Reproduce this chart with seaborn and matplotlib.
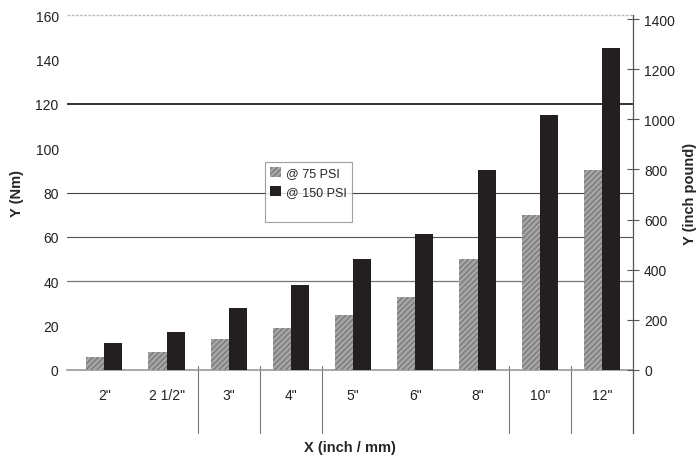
import matplotlib
matplotlib.use('Agg')
import numpy as np
import pandas as pd
import matplotlib.pyplot as plt
import seaborn as sns
from matplotlib.patches import Patch

# 数据 (Nm)
sizes = ['2"', '2 1/2"', '3"', '4"', '5"', '6"', '8"', '10"', '12"']
psi_75 = [6, 8, 14, 19, 25, 33, 50, 70, 90]
psi_150 = [12, 17, 28, 38.5, 50, 61.5, 90, 115, 145]
series_names = ['@ 75 PSI', '@ 150 PSI']
nm_to_inlb = 8.85

df = pd.DataFrame({
    'size': sizes * 2,
    'torque': psi_75 + psi_150,
    'psi': [series_names[0]] * len(sizes) + [series_names[1]] * len(sizes),
})

sns.set_style('white')
plt.rcParams['font.family'] = ['Liberation Sans', 'DejaVu Sans']

fig = plt.figure(figsize=(6.98, 4.6), dpi=100)
ax = fig.add_axes([67 / 698, 89 / 460, 566 / 698, 355 / 460])

sns.barplot(data=df, x='size', y='torque', hue='psi', order=sizes,
            palette=['#a6a6a6', '#231f20'], width=0.58, saturation=1,
            edgecolor='none', ax=ax, legend=False, zorder=3)

# 灰色柱子加纹理
for p in ax.containers[0]:
    p.set_hatch('//////')
    p.set_edgecolor('#7a7a7a')
    p.set_linewidth(0)

ax.set_xlim(-0.6, 8.5)
ax.set_ylim(0, 160)
ax.set_yticks(np.arange(0, 161, 20))
for s in ['left', 'top', 'right']:
    ax.spines[s].set_visible(False)
ax.spines['bottom'].set_color('#999999')
ax.spines['bottom'].set_linewidth(1.2)
ax.tick_params(axis='y', length=0, pad=6, labelsize=10, colors='#222222')
ax.tick_params(axis='x', length=0, pad=13, labelsize=10, colors='#222222')

# 网格线 (只有部分)
ax.axhline(40, color='#777777', lw=0.9, zorder=1)
ax.axhline(60, color='#555555', lw=0.8, zorder=1)
ax.axhline(80, color='#444444', lw=0.8, zorder=1)
ax.axhline(120, color='#222222', lw=1.3, zorder=1)
ax.axhline(160, color='#bbbbbb', lw=1.0, ls=(0, (2, 1)), zorder=1, clip_on=False)

# 类别分隔线
for k in [2, 3, 4, 7, 8]:
    ax.plot([k - 0.5, k - 0.5], [-0.178, 0.01], color='#777777', lw=0.8,
            transform=ax.get_xaxis_transform(), clip_on=False)

ax.set_xlabel('X (inch / mm)', fontsize=10.5, fontweight='bold', labelpad=27)
ax.set_ylabel('Y (Nm)', fontsize=10.5, fontweight='bold', labelpad=8)

# 右侧坐标轴
ax2 = ax.twinx()
ax2.set_ylim(0, 160 * nm_to_inlb)
ax2.set_yticks(np.arange(0, 1401, 200))
for s in ['left', 'top', 'bottom']:
    ax2.spines[s].set_visible(False)
ax2.spines['right'].set_color('#555555')
ax2.spines['right'].set_linewidth(0.9)
ax2.spines['right'].set_bounds(-250, 160 * nm_to_inlb)
ax2.tick_params(axis='y', direction='inout', length=8, width=0.8, color='#555555',
                pad=4, labelsize=10, labelcolor='#222222')
ax2.set_ylabel('Y (inch pound)', fontsize=10.5, fontweight='bold', labelpad=6)
ax2.grid(False)

handles = [Patch(facecolor='#a6a6a6', hatch='//////', edgecolor='#7a7a7a', lw=0),
           Patch(facecolor='#231f20', edgecolor='none'),
           Patch(facecolor='none', edgecolor='none')]
leg = ax.legend(handles, series_names + [''], loc='upper left',
                bbox_to_anchor=(265 / 698, 1 - 163 / 460), bbox_transform=fig.transFigure,
                borderaxespad=0, fontsize=9, frameon=True, fancybox=False,
                handlelength=0.9, handleheight=0.9, handletextpad=0.4,
                borderpad=0.4, labelspacing=0.5)
leg.get_frame().set_edgecolor('#888888')
leg.get_frame().set_linewidth(0.8)
leg.set_zorder(5)

plt.savefig('out.png', dpi=100)
plt.close()
